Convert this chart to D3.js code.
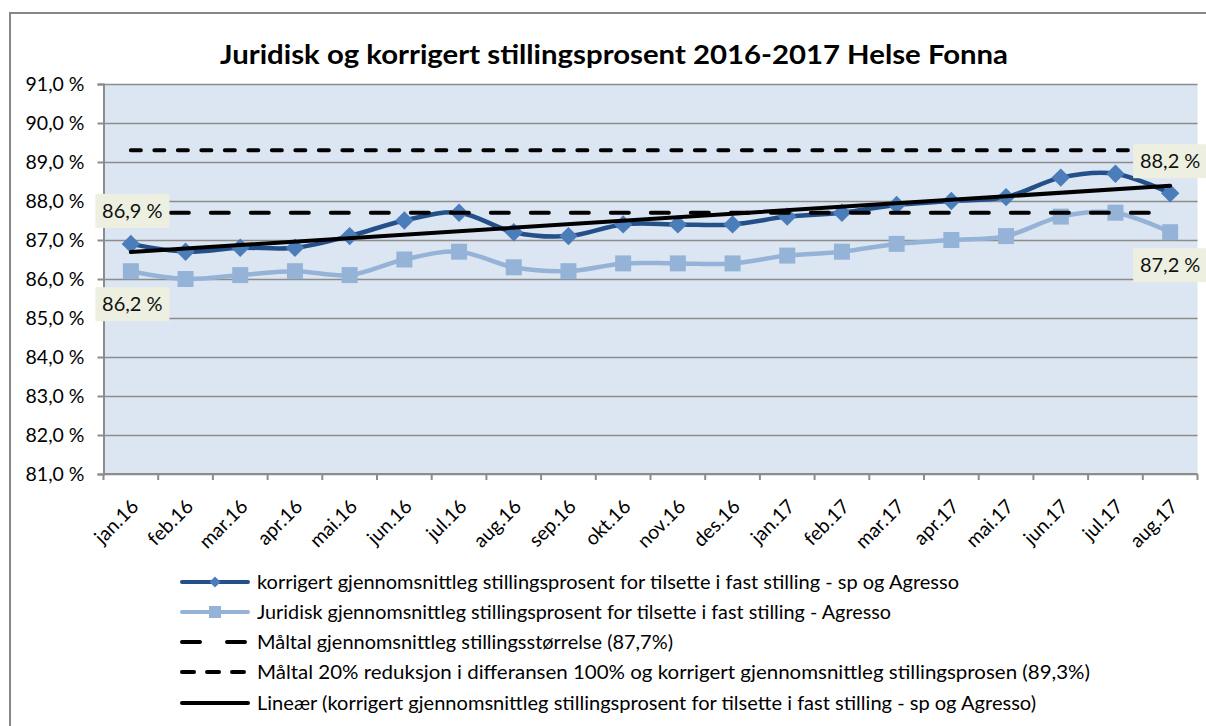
<!DOCTYPE html>
<html>
<head>
<meta charset="utf-8">
<script src="https://cdn.jsdelivr.net/npm/d3@7"></script>
<style>
  body { margin: 0; background: #fff; }
  svg { display: block; font-family: Lato, "Open Sans", sans-serif; }
</style>
</head>
<body>
<svg id="chart" width="1206" height="726"></svg>
<script>
const months = ['jan.16','feb.16','mar.16','apr.16','mai.16','jun.16','jul.16','aug.16','sep.16','okt.16','nov.16','des.16',
                'jan.17','feb.17','mar.17','apr.17','mai.17','jun.17','jul.17','aug.17'];
const korrigert = [86.9,86.7,86.8,86.8,87.1,87.5,87.7,87.2,87.1,87.4,87.4,87.4,87.6,87.7,87.9,88.0,88.1,88.6,88.7,88.2];
const juridisk  = [86.2,86.0,86.1,86.2,86.1,86.5,86.7,86.3,86.2,86.4,86.4,86.4,86.6,86.7,86.9,87.0,87.1,87.6,87.7,87.2];
const maaltalStorrelse = 87.7;
const maaltalReduksjon = 89.3;
const yTicks = [81,82,83,84,85,86,87,88,89,90,91];
const legendLabels = [
  'korrigert gjennomsnittleg stillingsprosent for tilsette i fast stilling  - sp og Agresso',
  'Juridisk gjennomsnittleg stillingsprosent for tilsette i fast stilling - Agresso',
  'Måltal gjennomsnittleg stillingsstørrelse (87,7%)',
  'Måltal 20% reduksjon i differansen 100% og korrigert gjennomsnittleg stillingsprosen (89,3%)',
  'Lineær (korrigert gjennomsnittleg stillingsprosent for tilsette i fast stilling  - sp og Agresso)'
];
const title = 'Juridisk og korrigert stillingsprosent 2016-2017 Helse Fonna';

const colors = {
  dark: '#24508a', darkMarker: '#4a7dba', light: '#95b3d7',
  plotBg: '#dce6f2', grid: '#8c8c8c', labelBg: '#edf0e0'
};

const svg = d3.select('#chart');
const plot = { left: 103.5, right: 1197.5, top: 84, bottom: 474 };

// outer chart border
svg.append('rect').attr('x', 10).attr('y', 13).attr('width', 1210).attr('height', 730)
  .attr('fill', '#fff').attr('stroke', '#878787').attr('stroke-width', 2);

svg.append('text').attr('x', 614).attr('y', 64).attr('text-anchor', 'middle')
  .attr('font-size', 26).attr('font-weight', 700).attr('fill', '#000')
  .attr('textLength', 788).attr('lengthAdjust', 'spacingAndGlyphs').text(title);

const x = d3.scaleBand().domain(months).range([plot.left, plot.right]);
const y = d3.scaleLinear().domain([81, 91]).range([plot.bottom, plot.top]);
const cx = d => x(d) + x.bandwidth() / 2;

svg.append('rect').attr('x', plot.left).attr('y', plot.top)
  .attr('width', plot.right - plot.left).attr('height', plot.bottom - plot.top).attr('fill', colors.plotBg);

// gridlines + y axis
const yAxis = svg.append('g').attr('transform', `translate(${plot.left},0)`)
  .call(d3.axisLeft(y).tickValues(yTicks).tickSize(6).tickPadding(13)
    .tickFormat(d => d.toFixed(1).replace('.', ',') + ' %'));
yAxis.select('.domain').attr('stroke', colors.grid).attr('stroke-width', 2);
yAxis.selectAll('.tick line').attr('stroke', colors.grid).attr('stroke-width', 2);
yAxis.selectAll('.tick text').attr('font-size', 19.5).attr('fill', '#000').attr('font-family', 'Lato');
yAxis.selectAll('.tick').append('line').attr('x1', 0).attr('x2', plot.right - plot.left)
  .attr('stroke', colors.grid).attr('stroke-width', 1.5);

// x axis
const xAxis = svg.append('g').attr('transform', `translate(0,${plot.bottom})`)
  .call(d3.axisBottom(x).tickSize(0).tickFormat(''));
xAxis.select('.domain').remove();
xAxis.append('line').attr('x1', plot.left).attr('x2', plot.right)
  .attr('stroke', colors.grid).attr('stroke-width', 2);
xAxis.selectAll('.boundary').data(months.concat(['end'])).enter().append('line')
  .attr('class', 'boundary')
  .attr('x1', (d, i) => i < months.length ? x(d) : plot.right)
  .attr('x2', (d, i) => i < months.length ? x(d) : plot.right)
  .attr('y1', 0).attr('y2', 6).attr('stroke', colors.grid).attr('stroke-width', 2);
svg.append('g').selectAll('text').data(months).enter().append('text')
  .attr('transform', d => `translate(${cx(d) + 4},${plot.bottom + 29}) rotate(-45)`)
  .attr('text-anchor', 'end').attr('dy', '0.35em')
  .attr('font-size', 19.5).attr('fill', '#000').text(d => d);

// series
const lineSmooth = d3.line().x((d, i) => cx(months[i])).y(d => y(d)).curve(d3.curveCatmullRom.alpha(0));

svg.append('path').datum(korrigert).attr('d', lineSmooth)
  .attr('fill', 'none').attr('stroke', colors.dark).attr('stroke-width', 4.5).attr('stroke-linejoin', 'round');
svg.append('g').selectAll('path').data(korrigert).enter().append('path')
  .attr('d', d3.symbol(d3.symbolSquare, 170))
  .attr('transform', (d, i) => `translate(${cx(months[i])},${y(d)}) rotate(45)`)
  .attr('fill', colors.darkMarker);

svg.append('path').datum(juridisk).attr('d', lineSmooth)
  .attr('fill', 'none').attr('stroke', colors.light).attr('stroke-width', 4.5).attr('stroke-linejoin', 'round');
svg.append('g').selectAll('rect').data(juridisk).enter().append('rect')
  .attr('x', (d, i) => cx(months[i]) - 8).attr('y', d => y(d) - 8)
  .attr('width', 16).attr('height', 16).attr('fill', colors.light);

// target lines
const x0 = cx(months[0]), x1 = cx(months[months.length - 1]);
svg.append('line').attr('x1', x0).attr('x2', x1)
  .attr('y1', y(maaltalStorrelse)).attr('y2', y(maaltalStorrelse))
  .attr('stroke', '#000').attr('stroke-width', 4).attr('stroke-linecap', 'round')
  .attr('stroke-dasharray', '18,22');
svg.append('line').attr('x1', x0).attr('x2', x1)
  .attr('y1', y(maaltalReduksjon)).attr('y2', y(maaltalReduksjon))
  .attr('stroke', '#000').attr('stroke-width', 4).attr('stroke-linecap', 'round')
  .attr('stroke-dasharray', '10,13.5');

// linear trend of korrigert
const n = korrigert.length;
const idx = d3.range(n);
const mx = d3.mean(idx), my = d3.mean(korrigert);
const slope = d3.sum(idx, i => (i - mx) * (korrigert[i] - my)) / d3.sum(idx, i => (i - mx) ** 2);
const icpt = my - slope * mx;
svg.append('line').attr('x1', x0).attr('x2', x1)
  .attr('y1', y(icpt)).attr('y2', y(icpt + slope * (n - 1)))
  .attr('stroke', '#000').attr('stroke-width', 4).attr('stroke-linecap', 'round');

// data labels
const fmt = v => v.toFixed(1).replace('.', ',') + ' %';
const labels = [
  { i: 0, v: korrigert[0], dy: -33 },
  { i: 0, v: juridisk[0], dy: 33 },
  { i: n - 1, v: korrigert[n - 1], dy: -32 },
  { i: n - 1, v: juridisk[n - 1], dy: 33 }
];
const lg = svg.append('g').selectAll('g').data(labels).enter().append('g')
  .attr('transform', d => `translate(${cx(months[d.i]) + (d.i === 0 ? 1.5 : 0)},${y(d.v) + d.dy})`);
lg.append('rect').attr('x', -37).attr('y', -17).attr('width', 74).attr('height', 34).attr('fill', colors.labelBg);
lg.append('text').attr('text-anchor', 'middle').attr('dy', '0.36em').attr('font-size', 20).attr('fill', '#111')
  .text(d => fmt(d.v));

// legend
const legendWidths = [702, 634, 416, 833, 779];
const leg = svg.append('g').selectAll('g').data(legendLabels).enter().append('g')
  .attr('transform', (d, i) => `translate(180,${582 + i * 30 + (i === 4 ? 1 : 0)})`);
leg.append('text').attr('x', 77).attr('dy', '0.35em').attr('font-size', 19.5).attr('fill', '#000')
  .attr('textLength', (d, i) => legendWidths[i]).attr('lengthAdjust', 'spacingAndGlyphs').text(d => d);
leg.each(function (d, i) {
  const g = d3.select(this);
  const base = g.append('line').attr('x1', 2).attr('x2', 68).attr('y1', 0).attr('y2', 0)
    .attr('stroke-width', 4).attr('stroke-linecap', 'round');
  if (i === 0) {
    base.attr('stroke', colors.dark);
    g.append('path').attr('d', d3.symbol(d3.symbolSquare, 60)).attr('transform', 'translate(35,0) rotate(45)').attr('fill', colors.darkMarker);
  } else if (i === 1) {
    base.attr('stroke', colors.light);
    g.append('rect').attr('x', 29).attr('y', -6).attr('width', 12).attr('height', 12).attr('fill', colors.light);
  } else if (i === 2) {
    base.attr('stroke', '#000').attr('stroke-dasharray', '18,27');
  } else if (i === 3) {
    base.attr('stroke', '#000').attr('stroke-dasharray', '12,13');
  } else {
    base.attr('stroke', '#000');
  }
});
</script>
</body>
</html>
